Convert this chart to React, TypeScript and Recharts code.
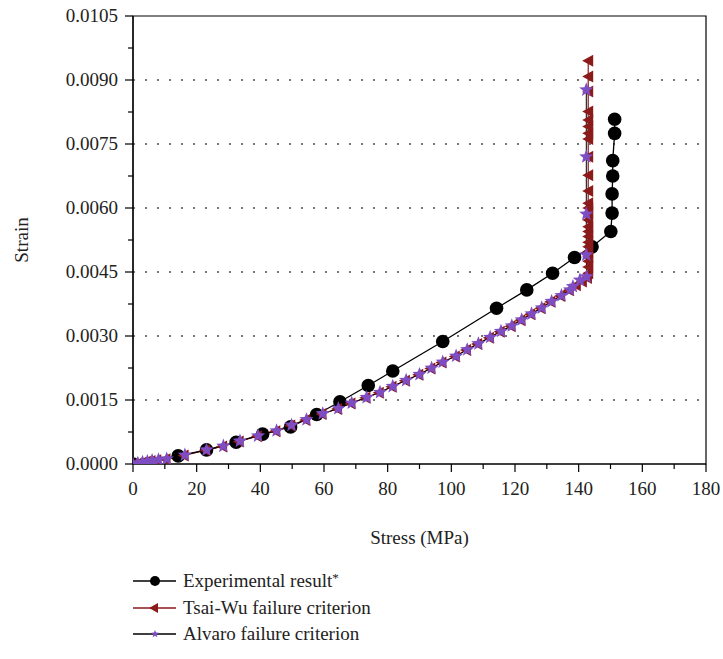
import React from 'react';
import {
  LineChart,
  Line,
  XAxis,
  YAxis,
  ReferenceLine,
  ReferenceArea,
  Label,
} from 'recharts';

// stress (MPa) / strain
const expStress = [0, 14.2, 23.1, 32.4, 40.7, 49.5, 57.7, 65.0, 73.9, 81.6, 97.3, 114.2, 123.7, 131.8, 138.7, 144.2, 150.1, 150.5, 150.5, 150.7, 150.7, 151.3, 151.3];
const expStrain = [0, 0.00019, 0.00033, 0.00051, 0.0007, 0.00087, 0.00116, 0.00146, 0.00184, 0.00218, 0.00287, 0.00365, 0.00408, 0.00447, 0.00484, 0.00509, 0.00545, 0.00588, 0.00633, 0.00675, 0.00711, 0.00775, 0.00808];

const tsaiStress = [0, 1.2, 2.6, 4.0, 5.5, 7.3, 10.2, 15.9, 22.7, 28.0, 33.2, 38.9, 44.7, 49.4, 54.1, 59.2, 64.1, 68.3, 73.0, 77.2, 81.2, 85.4, 89.6, 93.4, 96.9, 101.1, 104.6, 108.1, 111.8, 115.2, 118.6, 121.7, 124.8, 128.0, 131.1, 134.2, 136.9, 139.1, 141.0, 142.6, 143.0, 143.0, 143.0, 143.0, 143.0, 143.0, 143.0, 143.0, 143.0, 143.0, 143.0, 143.0, 143.0, 143.0, 143.0, 143.0, 143.0, 143.0, 143.0, 143.0, 143.0, 143.0, 143.0, 143.0, 143.0];
const tsaiStrain = [0, 0.00001, 0.00003, 0.00005, 0.00007, 0.00009, 0.00011, 0.0002, 0.00032, 0.00041, 0.00053, 0.00065, 0.00077, 0.0009, 0.00103, 0.00117, 0.00129, 0.00142, 0.00155, 0.00167, 0.00181, 0.00195, 0.00209, 0.00224, 0.00238, 0.00252, 0.00267, 0.00281, 0.00296, 0.0031, 0.00323, 0.00337, 0.00351, 0.00365, 0.0038, 0.00394, 0.00407, 0.00419, 0.00428, 0.00436, 0.00447, 0.00462, 0.00475, 0.00486, 0.00498, 0.00509, 0.0052, 0.00533, 0.00545, 0.00556, 0.00572, 0.00588, 0.006, 0.00611, 0.0064, 0.00677, 0.0072, 0.00762, 0.00775, 0.00791, 0.00806, 0.00826, 0.00873, 0.00908, 0.00945];

const alvaroStress = [0, 1.5, 3.0, 4.5, 6.0, 8.0, 10.6, 16.3, 23.1, 28.4, 33.6, 39.3, 45.1, 49.8, 54.5, 59.6, 64.5, 68.7, 73.4, 77.6, 81.6, 85.8, 90.0, 93.8, 97.3, 101.5, 105.0, 108.5, 112.2, 115.6, 119.0, 122.1, 125.2, 128.4, 131.5, 134.6, 137.3, 138.2, 140.4, 142.5, 142.4, 142.4, 142.4, 142.4];
const alvaroStrain = [0, 0.00002, 0.00004, 0.00006, 0.00008, 0.0001, 0.00012, 0.00021, 0.00033, 0.00042, 0.00054, 0.00066, 0.00078, 0.00091, 0.00104, 0.00118, 0.0013, 0.00143, 0.00156, 0.00168, 0.00182, 0.00196, 0.0021, 0.00225, 0.00239, 0.00253, 0.00268, 0.00282, 0.00297, 0.00311, 0.00324, 0.00338, 0.00352, 0.00366, 0.00381, 0.00395, 0.00408, 0.00416, 0.00431, 0.00439, 0.0049, 0.00586, 0.0072, 0.00877];

const xTicks = [0, 10, 20, 30, 40, 50, 60, 70, 80, 90, 100, 110, 120, 130, 140, 150, 160, 170, 180];
const yTicks = [0, 0.00075, 0.0015, 0.00225, 0.003, 0.00375, 0.0045, 0.00525, 0.006, 0.00675, 0.0075, 0.00825, 0.009, 0.00975, 0.0105];
const gridLines = [0.0015, 0.003, 0.0045, 0.006, 0.0075, 0.009];

const seriesNames = ['Experimental result', 'Tsai-Wu failure criterion', 'Alvaro failure criterion'];

const zip = (xs: number[], ys: number[]) => xs.map((x, i) => ({ x, y: ys[i] }));
const expData = zip(expStress, expStrain);
const tsaiData = zip(tsaiStress, tsaiStrain);
const alvaroData = zip(alvaroStress, alvaroStrain);

const FONT = '"Liberation Serif", "Times New Roman", serif';
const RED = '#8b1a1a';
const PURPLE = '#7d4dc1';

const starPoints = (cx: number, cy: number, ro: number, ri: number) => {
  const pts: string[] = [];
  for (let i = 0; i < 10; i++) {
    const r = i % 2 === 0 ? ro : ri;
    const a = -Math.PI / 2 + (i * Math.PI) / 5;
    pts.push(`${cx + r * Math.cos(a)},${cy + r * Math.sin(a)}`);
  }
  return pts.join(' ');
};

const CircleDot = (props: any) => {
  const { cx, cy, index } = props;
  if (cx == null || cy == null) return <g key={index} />;
  return <circle key={index} cx={cx} cy={cy} r={6.8} fill="#000" />;
};

const TriDot = (props: any) => {
  const { cx, cy, index } = props;
  if (cx == null || cy == null) return <g key={index} />;
  return <polygon key={index} points={`${cx - 6},${cy} ${cx + 5},${cy - 6} ${cx + 5},${cy + 6}`} fill={RED} />;
};

const StarDot = (props: any) => {
  const { cx, cy, index } = props;
  if (cx == null || cy == null) return <g key={index} />;
  return <polygon key={index} points={starPoints(cx, cy, 7.5, 3.2)} fill={PURPLE} />;
};

const XTick = (props: any) => {
  const { x, y, index, payload } = props;
  const major = index % 2 === 0;
  return (
    <g>
      <line x1={x} x2={x} y1={y} y2={y + (major ? 8 : 5)} stroke="#000" strokeWidth={1.2} />
      {major && (
        <text x={x} y={y + 31} textAnchor="middle" fontFamily={FONT} fontSize={19} fill="#222">
          {payload.value}
        </text>
      )}
    </g>
  );
};

const YTick = (props: any) => {
  const { x, y, index, payload } = props;
  const major = index % 2 === 0;
  return (
    <g>
      <line x1={x} x2={x - (major ? 8 : 5)} y1={y} y2={y} stroke="#000" strokeWidth={1.2} />
      {major && (
        <text x={x - 15} y={y + 6} textAnchor="end" fontFamily={FONT} fontSize={19} fill="#222">
          {payload.value.toFixed(4)}
        </text>
      )}
    </g>
  );
};

const LegendRow: React.FC<{ name: string; lineColor: string; marker: 'circle' | 'tri' | 'star'; sup?: boolean }> = ({ name, lineColor, marker, sup }) => (
  <div style={{ display: 'flex', alignItems: 'center', height: 26.5 }}>
    <svg width={50} height={20} style={{ marginLeft: 133 }}>
      <line x1={0} x2={43} y1={10} y2={10} stroke={lineColor} strokeWidth={1.3} />
      {marker === 'circle' && <circle cx={22} cy={10} r={5} fill="#000" />}
      {marker === 'tri' && <polygon points="16,10 25,5 25,15" fill={RED} />}
      {marker === 'star' && <polygon points={starPoints(22, 10, 4, 1.8)} fill={PURPLE} />}
    </svg>
    <span style={{ fontFamily: FONT, fontSize: 19, color: '#222' }}>
      {name}
      {sup && <span style={{ fontSize: 13, verticalAlign: 'top' }}>*</span>}
    </span>
  </div>
);

const App: React.FC = () => {
  return (
    <div style={{ position: 'absolute', left: 0, top: 0, width: 723, height: 659, background: '#fff' }}>
      <LineChart width={723} height={560} margin={{ top: 16, right: 17, bottom: 0, left: 0 }}>
        <XAxis
          dataKey="x"
          type="number"
          domain={[0, 180]}
          ticks={xTicks}
          interval={0}
          allowDataOverflow
          height={96}
          tickLine={false}
          tickSize={0}
          tickMargin={0}
          tick={<XTick />}
          axisLine={{ stroke: '#000', strokeWidth: 1.2 }}
        >
          <Label
            content={({ viewBox }: any) => (
              <text x={viewBox.x + viewBox.width / 2} y={viewBox.y + 80} textAnchor="middle" fontFamily={FONT} fontSize={19} fill="#222">
                Stress (MPa)
              </text>
            )}
          />
        </XAxis>
        <YAxis
          dataKey="y"
          type="number"
          domain={[0, 0.0105]}
          ticks={yTicks}
          interval={0}
          allowDataOverflow
          width={133}
          tickLine={false}
          tickSize={0}
          tickMargin={0}
          tick={<YTick />}
          axisLine={{ stroke: '#000', strokeWidth: 1.2 }}
        >
          <Label
            content={({ viewBox }: any) => {
              const cy = viewBox.y + viewBox.height / 2;
              return (
                <text x={28} y={cy} transform={`rotate(-90, 28, ${cy})`} textAnchor="middle" fontFamily={FONT} fontSize={19} fill="#222">
                  Strain
                </text>
              );
            }}
          />
        </YAxis>
        {gridLines.map((v) => (
          <ReferenceLine key={v} y={v} stroke="#444" strokeWidth={1.3} strokeDasharray="2 10" />
        ))}
        <ReferenceArea x1={0} x2={180} y1={0} y2={0.0105} fill="none" stroke="#000" strokeWidth={1.2} />
        <Line
          data={expData}
          dataKey="y"
          name={seriesNames[0]}
          stroke="#000"
          strokeWidth={1.3}
          dot={<CircleDot />}
          activeDot={false}
          isAnimationActive={false}
        />
        <Line
          data={tsaiData}
          dataKey="y"
          name={seriesNames[1]}
          stroke={RED}
          strokeWidth={1.2}
          dot={<TriDot />}
          activeDot={false}
          isAnimationActive={false}
        />
        <Line
          data={alvaroData}
          dataKey="y"
          name={seriesNames[2]}
          stroke="#000"
          strokeWidth={1}
          dot={<StarDot />}
          activeDot={false}
          isAnimationActive={false}
        />
      </LineChart>
      <div style={{ position: 'absolute', left: 0, top: 568 }}>
        <LegendRow name={seriesNames[0]} lineColor="#000" marker="circle" sup />
        <LegendRow name={seriesNames[1]} lineColor={RED} marker="tri" />
        <LegendRow name={seriesNames[2]} lineColor="#000" marker="star" />
      </div>
    </div>
  );
};

export default App;
